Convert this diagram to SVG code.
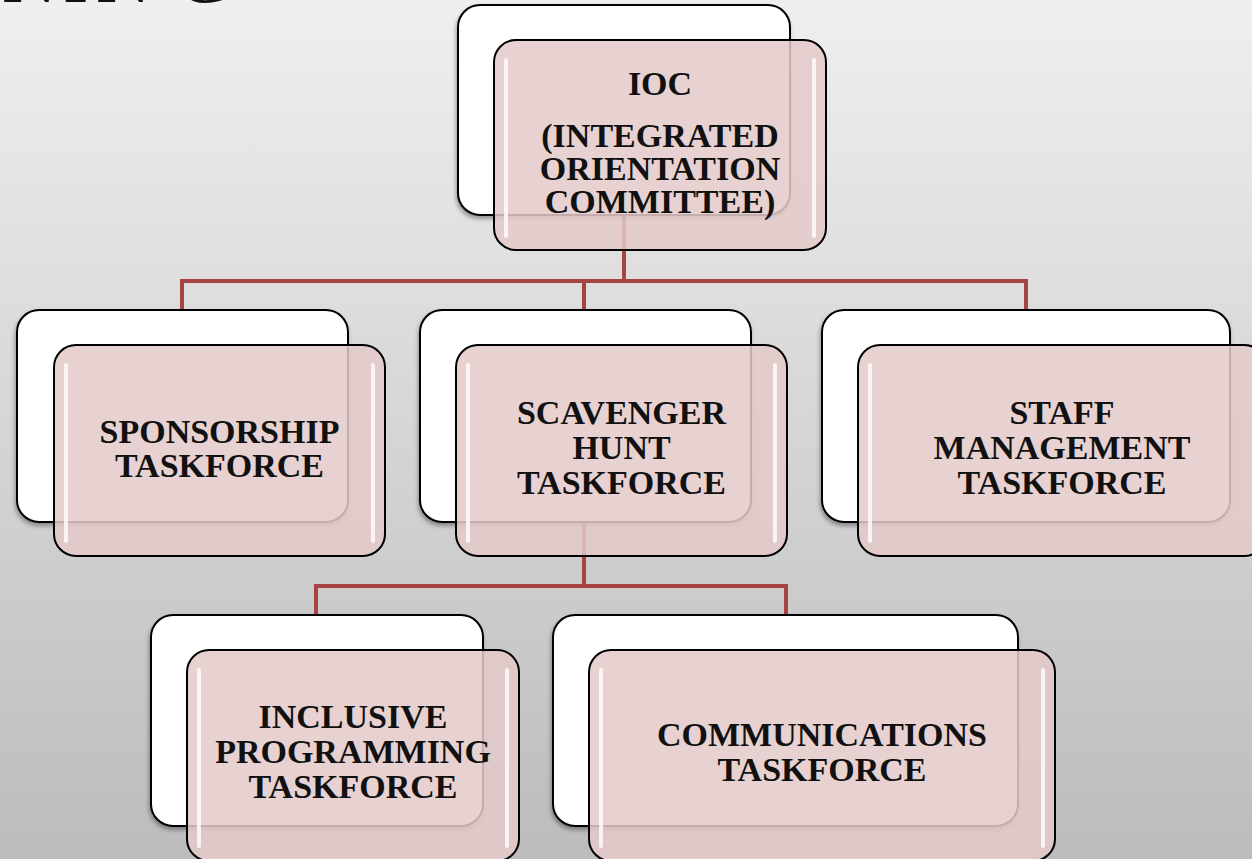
<svg xmlns="http://www.w3.org/2000/svg" width="1252" height="859" viewBox="0 0 1252 859">
  <defs>
    <linearGradient id="bg" x1="0" y1="0" x2="0" y2="1">
      <stop offset="0" stop-color="#efefef"/>
      <stop offset="1" stop-color="#bcbcbc"/>
    </linearGradient>
    <filter id="sh" x="-10%" y="-10%" width="120%" height="130%">
      <feDropShadow dx="-1" dy="3" stdDeviation="2" flood-color="#000" flood-opacity="0.35"/>
    </filter>
    <style>
      .back { fill: #ffffff; stroke: #000; stroke-width: 2; filter: url(#sh); }
      .front { fill: #e4caca; fill-opacity: 0.86; stroke: #000; stroke-width: 2; }
      .hl { stroke: #ffffff; stroke-width: 4; stroke-linecap: round; opacity: 0.8; fill: none; }
      .lbl { font-family: "Liberation Serif", "Times New Roman", serif; font-weight: bold; font-size: 34px; fill: #111; text-anchor: middle; }
      .conn { fill: none; stroke: #a84343; stroke-width: 4; }
      .title { font-family: "Liberation Serif", "Times New Roman", serif; font-size: 76px; fill: #111; }
    </style>
  </defs>

  <rect x="0" y="0" width="1252" height="859" fill="url(#bg)"/>
  <text class="title" x="2 63 96 176" y="2">NING</text>

  <g id="connectors">
    <path class="conn" d="M624 215 V281"/>
    <path class="conn" d="M182 310 V281 H1026 V310"/>
    <path class="conn" d="M584 281 V310"/>
    <path class="conn" d="M584 522 V586"/>
    <path class="conn" d="M316 615 V586 H786 V615"/>
  </g>

  <g id="node-ioc">
    <rect class="back" x="458" y="5" width="332" height="210" rx="22"/>
    <rect class="front" x="494" y="40" width="332" height="210" rx="22"/>
    <line class="hl" x1="506" y1="60" x2="506" y2="236"/>
    <line class="hl" x1="814" y1="60" x2="814" y2="236"/>
    <text class="lbl" x="660" y="95">IOC</text>
    <text class="lbl" x="660" y="147">(INTEGRATED</text>
    <text class="lbl" x="660" y="180">ORIENTATION</text>
    <text class="lbl" x="660" y="213">COMMITTEE)</text>
  </g>

  <g id="node-sponsorship">
    <rect class="back" x="17" y="310" width="331" height="212" rx="22"/>
    <rect class="front" x="54" y="345" width="331" height="211" rx="22"/>
    <line class="hl" x1="66" y1="365" x2="66" y2="541"/>
    <line class="hl" x1="373" y1="365" x2="373" y2="541"/>
    <text class="lbl" x="219.5" y="443">SPONSORSHIP</text>
    <text class="lbl" x="219.5" y="477">TASKFORCE</text>
  </g>

  <g id="node-scavenger">
    <rect class="back" x="420" y="310" width="331" height="212" rx="22"/>
    <rect class="front" x="456" y="345" width="331" height="211" rx="22"/>
    <line class="hl" x1="468" y1="365" x2="468" y2="541"/>
    <line class="hl" x1="775" y1="365" x2="775" y2="541"/>
    <text class="lbl" x="621.5" y="424">SCAVENGER</text>
    <text class="lbl" x="621.5" y="459">HUNT</text>
    <text class="lbl" x="621.5" y="494">TASKFORCE</text>
  </g>

  <g id="node-staff">
    <rect class="back" x="822" y="310" width="408" height="212" rx="22"/>
    <rect class="front" x="858" y="345" width="408" height="211" rx="22"/>
    <line class="hl" x1="870" y1="365" x2="870" y2="541"/>
    <text class="lbl" x="1062" y="424">STAFF</text>
    <text class="lbl" x="1062" y="459">MANAGEMENT</text>
    <text class="lbl" x="1062" y="494">TASKFORCE</text>
  </g>

  <g id="node-inclusive">
    <rect class="back" x="151" y="615" width="332" height="211" rx="22"/>
    <rect class="front" x="187" y="650" width="332" height="211" rx="22"/>
    <line class="hl" x1="199" y1="670" x2="199" y2="846"/>
    <line class="hl" x1="507" y1="670" x2="507" y2="846"/>
    <text class="lbl" x="353" y="728">INCLUSIVE</text>
    <text class="lbl" x="353" y="763">PROGRAMMING</text>
    <text class="lbl" x="353" y="798">TASKFORCE</text>
  </g>

  <g id="node-communications">
    <rect class="back" x="553" y="615" width="465" height="211" rx="22"/>
    <rect class="front" x="589" y="650" width="466" height="211" rx="22"/>
    <line class="hl" x1="601" y1="670" x2="601" y2="846"/>
    <line class="hl" x1="1043" y1="670" x2="1043" y2="846"/>
    <text class="lbl" x="822" y="746">COMMUNICATIONS</text>
    <text class="lbl" x="822" y="781">TASKFORCE</text>
  </g>
</svg>
